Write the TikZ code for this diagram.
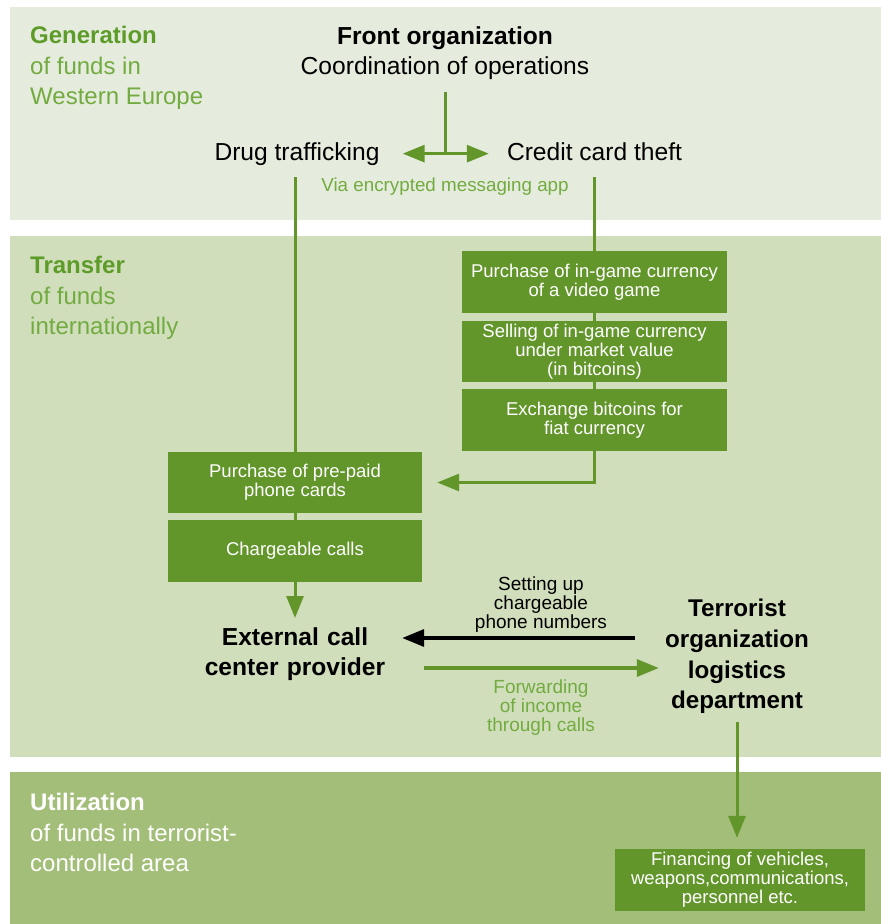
\documentclass[tikz,border=0pt]{standalone}
\usepackage{fontspec}
\setmainfont{Liberation Sans}
\usetikzlibrary{arrows.meta}
\definecolor{pone}{HTML}{E6ECDD}
\definecolor{ptwo}{HTML}{D1DEBC}
\definecolor{pthree}{HTML}{A3BE78}
\definecolor{boxg}{HTML}{62962A}
\definecolor{headg}{HTML}{5E9C2A}
\definecolor{subg}{HTML}{72AB40}
\newcommand\fHead{\fontsize{24}{30.5}\selectfont}
\newcommand\fBig{\fontsize{24.6}{30.5}\selectfont}
\newcommand\fTerr{\fontsize{24.2}{30.7}\selectfont}
\newcommand\fBox{\fontsize{18.5}{19}\selectfont}
\newcommand\fSmall{\fontsize{19}{19}\selectfont}
\newcommand\fVia{\fontsize{18.8}{19}\selectfont}
\begin{document}
\begin{tikzpicture}[x=1pt,y=-1pt,
  every node/.style={inner sep=0pt},
  heading/.style={anchor=north west, align=left, font=\fHead, text=subg},
  bigtext/.style={font=\fBig, text=black, align=center},
  smalltext/.style={font=\fSmall, align=center},
  gbox/.style={fill=boxg, text=white, align=center, font=\fBox, minimum width=#1, minimum height=61.5pt},
  gline/.style={draw=boxg, line width=3pt},
  garr/.style={gline, -{Triangle[length=22pt,width=17pt]}},
  barr/.style={draw=black, line width=3.5pt, -{Triangle[length=22pt,width=17pt]}}
]
\useasboundingbox (0,0) rectangle (881,924);
% panels
\fill[pone] (10,7) rectangle (881,220);
\fill[ptwo] (10,236) rectangle (881,757);
\fill[pthree] (10,772) rectangle (881,924);

% headings
\node[heading] (hgen) at (30,26) {\textbf{\textcolor{headg}{Generation}}\\of funds in\\Western Europe};
\node[heading] (htra) at (30,256) {\textbf{\textcolor{headg}{Transfer}}\\of funds\\internationally};
\node[heading, text=white] (huti) at (30,793) {\textbf{Utilization}\\of funds in terrorist-\\controlled area};

% top
\node[bigtext, anchor=north] (front) at (445,26) {\textbf{Front organization}\\Coordination of operations};
\node[bigtext, anchor=base] (drug) at (297,160) {Drug trafficking};
\node[bigtext, anchor=base] (credit) at (594.5,160) {Credit card theft};
\node[font=\fVia, text=subg, anchor=base] (via) at (445,191) {Via encrypted messaging app};

% right boxes
\node[gbox=265pt] (r1) at (594.5,282) {Purchase of in-game currency\\of a video game};
\node[gbox=265pt] (r2) at (594.5,351.5) {Selling of in-game currency\\under market value\\(in bitcoins)};
\node[gbox=265pt] (r3) at (594.5,420) {Exchange bitcoins for\\fiat currency};

% left boxes
\node[gbox=254pt] (la) at (295,482.5) {Purchase of pre-paid\\phone cards};
\node[gbox=254pt] (lb) at (295,551) {Chargeable calls};

% lower
\node[bigtext, anchor=north, text width=190pt] (ext) at (295,627) {\textbf{External call}\\\textbf{center provider}};
\node[bigtext, font=\fTerr, anchor=north, text width=150pt] (terr) at (737,599) {\textbf{Terrorist}\\\textbf{organization}\\\textbf{logistics}\\\textbf{department}};
\node[smalltext, anchor=north] (setup) at (541,577) {Setting up\\chargeable\\phone numbers};
\node[smalltext, anchor=north, text=subg] (fwd) at (541,680) {Forwarding\\of income\\through calls};
\node[gbox=250pt, minimum height=62pt] (fin) at (740,880) {Financing of vehicles,\\weapons,communications,\\personnel etc.};

% connectors
\draw[gline, shorten <=12pt] (front.south) -- (front.south |- drug.east);
\draw[gline, {Triangle[length=22pt,width=17pt]}-{Triangle[length=22pt,width=17pt]}, shorten <=23pt, shorten >=18pt] (drug.east) -- (drug.east -| credit.west);
\draw[gline, shorten <=12pt] (drug.south -| la.north) -- (la.north);
\draw[gline, shorten <=17pt] (credit.south) -- (r1.north);
\draw[gline] (r1.south) -- (r2.north);
\draw[gline] (r2.south) -- (r3.north);
\draw[garr, shorten >=15pt] (r3.south) |- (la.east);
\draw[gline] (la.south) -- (lb.north);
\draw[garr, shorten >=9pt] (lb.south) -- (ext.north);
\draw[barr, shorten <=27pt, shorten >=12pt] ([yshift=-39pt]terr.north west) -- ([yshift=-11pt]ext.north east);
\draw[garr, line width=3.5pt, shorten <=34pt, shorten >=3pt] ([yshift=-41pt]ext.north east) -- ([yshift=-69pt]terr.north west);
\draw[garr, shorten <=8pt, shorten >=11pt] (terr.south) -- (terr.south |- fin.north);
\end{tikzpicture}
\end{document}
